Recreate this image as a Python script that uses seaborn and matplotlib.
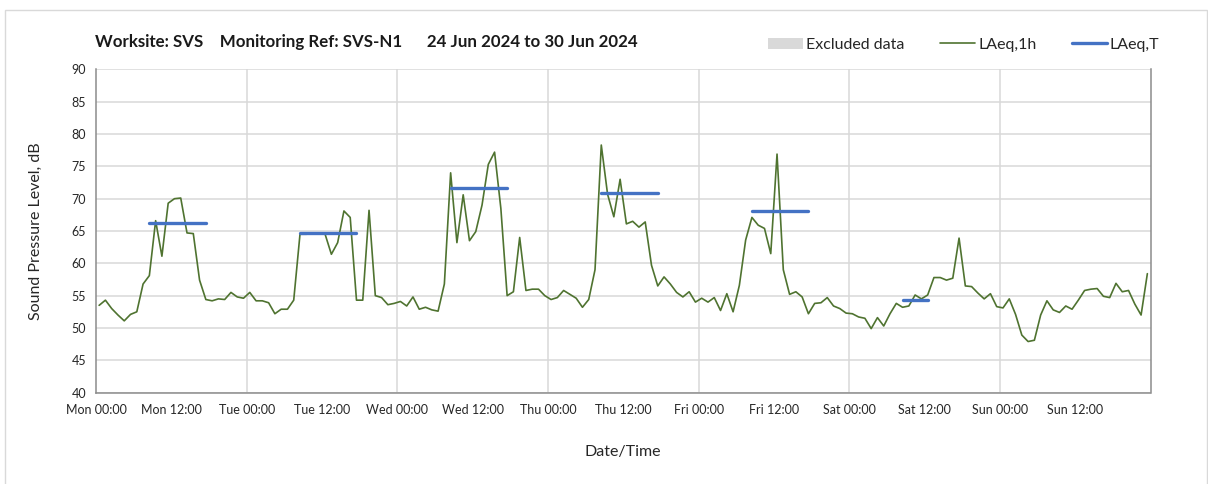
import numpy as np
import pandas as pd
import matplotlib
matplotlib.use("Agg")
import matplotlib.pyplot as plt
from matplotlib.patches import Patch, Rectangle
from matplotlib.lines import Line2D
import seaborn as sns

# Hourly LAeq,1h values (dB), one list per day, 00:00 .. 23:00
mon = [53.5, 54.3, 53.0, 52.0, 51.1, 52.1, 52.5, 56.8, 58.1, 66.6, 61.1, 69.3,
       70.0, 70.1, 64.7, 64.6, 57.4, 54.4, 54.2, 54.5, 54.4, 55.5, 54.8, 54.6]
tue = [55.5, 54.2, 54.2, 53.9, 52.2, 52.9, 52.9, 54.3, 64.5, 64.5, 64.6, 64.6,
       64.5, 61.4, 63.2, 68.1, 67.1, 54.3, 54.3, 68.2, 55.0, 54.7, 53.6, 53.8]
wed = [54.1, 53.4, 54.8, 52.9, 53.2, 52.8, 52.6, 56.8, 74.0, 63.2, 70.6, 63.5,
       64.9, 69.0, 75.3, 77.2, 68.5, 55.0, 55.6, 64.0, 55.8, 56.0, 56.0, 55.0]
thu = [54.4, 54.7, 55.8, 55.2, 54.6, 53.2, 54.4, 59.0, 78.3, 70.7, 67.2, 73.0,
       66.1, 66.5, 65.6, 66.4, 59.7, 56.5, 57.9, 56.8, 55.5, 54.8, 55.6, 54.0]
fri = [54.6, 54.0, 54.7, 52.7, 55.3, 52.5, 56.6, 63.6, 67.1, 65.9, 65.4, 61.5,
       76.9, 59.0, 55.2, 55.6, 54.8, 52.2, 53.8, 53.9, 54.7, 53.4, 53.0, 52.3]
sat = [52.2, 51.7, 51.5, 49.9, 51.6, 50.3, 52.2, 53.8, 53.2, 53.4, 55.1, 54.5,
       55.1, 57.8, 57.8, 57.4, 57.7, 63.9, 56.5, 56.4, 55.4, 54.5, 55.3, 53.3]
sun = [53.1, 54.5, 52.1, 48.9, 47.9, 48.1, 52.0, 54.2, 52.8, 52.4, 53.4, 52.9,
       54.3, 55.8, 56.0, 56.1, 54.9, 54.7, 56.9, 55.6, 55.8, 53.7, 52.0, 58.4]

# LAeq,T over each assessment period (first and last hour index of the week)
laeq_t = [66.3, 64.7, 71.6, 70.9, 68.1, 54.4]
period_first = [8, 32, 56, 80, 104, 128]
period_last = [17, 41, 65, 89, 113, 132]

days = ["Mon", "Tue", "Wed", "Thu", "Fri", "Sat", "Sun"]
tick_labels = [f"{d} {t}" for d in days for t in ("00:00", "12:00")]

level = mon + tue + wed + thu + fri + sat + sun
hourly = pd.DataFrame({"hour": np.arange(len(level)) + 0.5, "level": level})

rows = []
for k, (a, b, v) in enumerate(zip(period_first, period_last, laeq_t)):
    rows.append({"period": k, "hour": a + 0.5, "level": v})
    rows.append({"period": k, "hour": b + 0.5, "level": v})
periods = pd.DataFrame(rows)

sns.set_theme(style="white")
plt.rcParams["font.family"] = ["Lato", "DejaVu Sans"]

GREEN = "#4F7330"
BLUE = "#4472C4"
GRID = "#D9D9D9"
AXIS = "#8C8C8C"
TEXT = "#262626"

fig = plt.figure(figsize=(12.08, 4.84), dpi=100)
ax = fig.add_axes([96 / 1208, 1 - 392.6 / 484, (1150.5 - 96) / 1208, 323.2 / 484])

# outer chart border
fig.patches.append(Rectangle((5 / 1208, -0.05), 1202 / 1208, 1 - 10 / 484 + 0.05,
                             transform=fig.transFigure, fill=False,
                             edgecolor=GRID, linewidth=1.0))

sns.lineplot(data=hourly, x="hour", y="level", ax=ax, color=GREEN, linewidth=1.2)
sns.lineplot(data=periods, x="hour", y="level", units="period", estimator=None,
             ax=ax, color=BLUE, linewidth=2.4)

ax.set_xlim(0, 168)
ax.set_ylim(40, 90)
ax.set_yticks(np.arange(40, 91, 5))
ax.set_xticks(np.arange(0, 168, 12))
ax.set_xticklabels(tick_labels)

ax.yaxis.grid(True, color=GRID, linewidth=1.1)
for d in range(1, 7):
    ax.axvline(d * 24, color=GRID, linewidth=1.1, zorder=0)

for side in ("left", "bottom", "right"):
    ax.spines[side].set_color(AXIS)
    ax.spines[side].set_linewidth(1.1)
ax.spines["top"].set_visible(False)

ax.tick_params(axis="both", which="major", direction="out", length=4, width=1,
               color=AXIS, labelsize=9, labelcolor=TEXT, pad=3)
ax.tick_params(axis="x", pad=4)

ax.set_xlabel("Date/Time", fontsize=11.5, color=TEXT)
ax.set_ylabel("Sound Pressure Level, dB", fontsize=11.5, color=TEXT)
ax.xaxis.set_label_coords(0.5, -0.163)
ax.yaxis.set_label_coords(-0.05, 0.5)

fig.text(95 / 1208, 1 - 42 / 484,
         "Worksite: SVS    Monitoring Ref: SVS-N1      24 Jun 2024 to 30 Jun 2024",
         fontsize=12.2, fontweight="bold", color="#1a1a1a", va="center")

handles = [Patch(facecolor=GRID, edgecolor="none", label="Excluded data"),
           Line2D([], [], color=GREEN, linewidth=1.2, label="LAeq,1h"),
           Line2D([], [], color=BLUE, linewidth=2.4, label="LAeq,T")]
fig.legend(handles=handles, loc="center right", bbox_to_anchor=(1174 / 1208, 1 - 45 / 484),
           ncol=3, frameon=False, fontsize=11.5, handlelength=2.2, handletextpad=0.2,
           columnspacing=2.2, labelcolor=TEXT)

fig.savefig("out.png", dpi=100)
